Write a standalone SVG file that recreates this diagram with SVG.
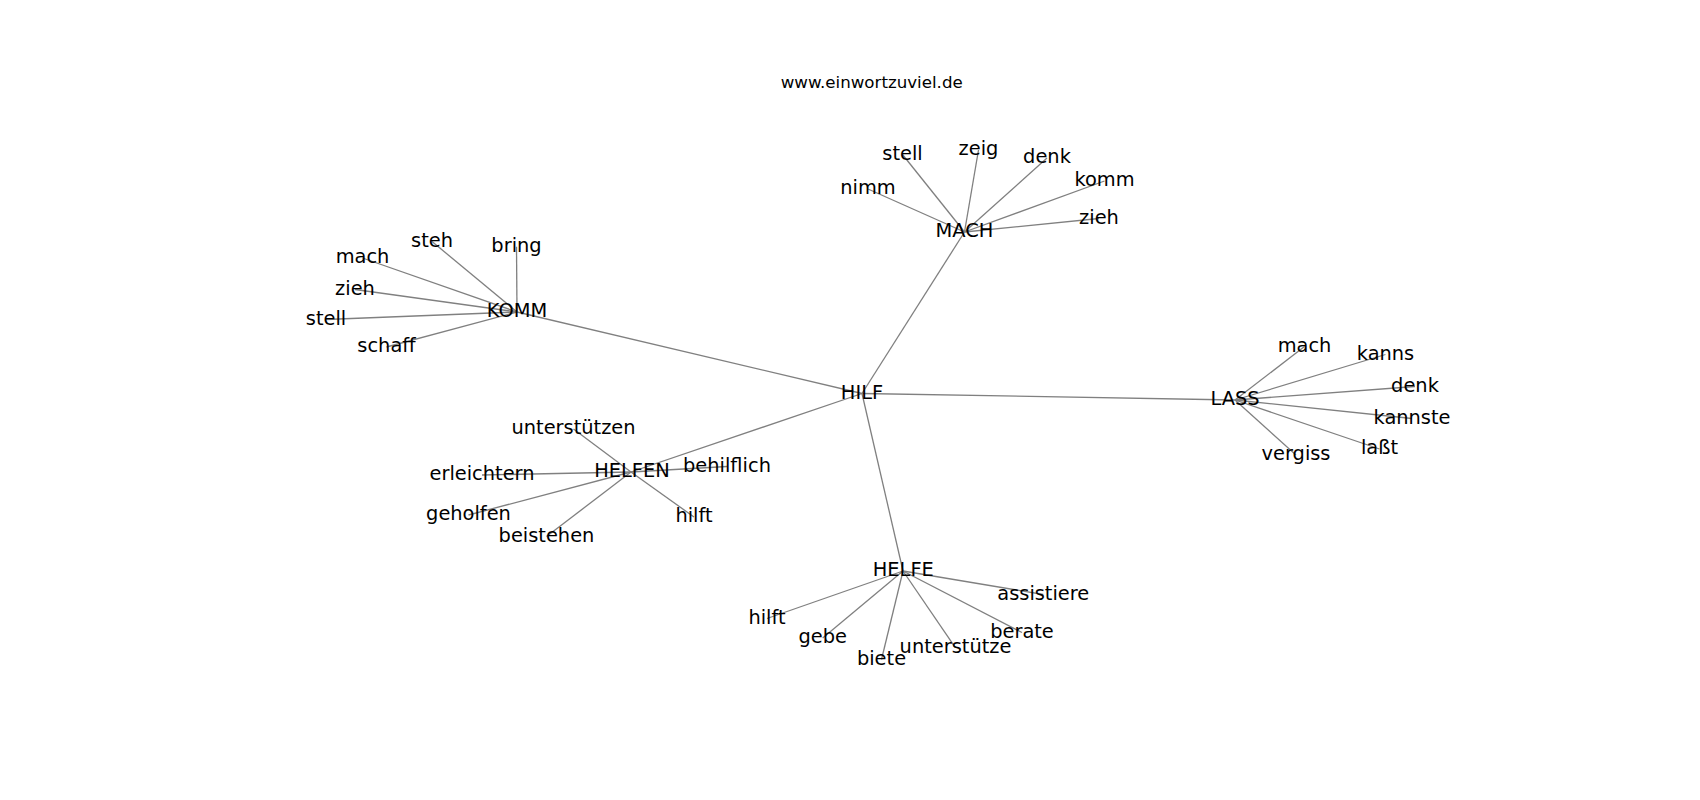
<svg xmlns="http://www.w3.org/2000/svg" width="1700" height="800" viewBox="0 0 1700 800">
<style>
.e{stroke:#808080;stroke-width:1.3;fill:none}
.l{font-family:"DejaVu Sans",sans-serif;font-size:19.4px;fill:#000;text-anchor:middle}
.t{font-family:"DejaVu Sans",sans-serif;font-size:16.67px;fill:#000;text-anchor:middle}
</style>
<rect width="1700" height="800" fill="#fff"/>
<text class="t" x="871.7" y="88.3">www.einwortzuviel.de</text>
<g id="connectors">
<line class="e" x1="862" y1="393.5" x2="517" y2="312"/>
<line class="e" x1="862" y1="393.5" x2="964.5" y2="232"/>
<line class="e" x1="862" y1="393.5" x2="1235" y2="400"/>
<line class="e" x1="862" y1="393.5" x2="631" y2="472"/>
<line class="e" x1="862" y1="393.5" x2="903" y2="571"/>
<line class="e" x1="517" y1="312" x2="516.5" y2="246.8"/>
<line class="e" x1="517" y1="312" x2="432" y2="241.5"/>
<line class="e" x1="517" y1="312" x2="362.5" y2="258"/>
<line class="e" x1="517" y1="312" x2="355" y2="289.5"/>
<line class="e" x1="517" y1="312" x2="326" y2="319.5"/>
<line class="e" x1="517" y1="312" x2="386.5" y2="347"/>
<line class="e" x1="964.5" y1="232" x2="868" y2="189"/>
<line class="e" x1="964.5" y1="232" x2="902.5" y2="154.5"/>
<line class="e" x1="964.5" y1="232" x2="978.5" y2="150"/>
<line class="e" x1="964.5" y1="232" x2="1047" y2="158"/>
<line class="e" x1="964.5" y1="232" x2="1104.5" y2="181"/>
<line class="e" x1="964.5" y1="232" x2="1099" y2="218.5"/>
<line class="e" x1="1235" y1="400" x2="1304.5" y2="346.5"/>
<line class="e" x1="1235" y1="400" x2="1385.5" y2="354.5"/>
<line class="e" x1="1235" y1="400" x2="1415" y2="386.5"/>
<line class="e" x1="1235" y1="400" x2="1412" y2="418.5"/>
<line class="e" x1="1235" y1="400" x2="1379.5" y2="449"/>
<line class="e" x1="1235" y1="400" x2="1296" y2="455"/>
<line class="e" x1="631" y1="472" x2="573.5" y2="429"/>
<line class="e" x1="631" y1="472" x2="482" y2="475"/>
<line class="e" x1="631" y1="472" x2="727" y2="466.5"/>
<line class="e" x1="631" y1="472" x2="468.5" y2="515"/>
<line class="e" x1="631" y1="472" x2="546.5" y2="536.5"/>
<line class="e" x1="631" y1="472" x2="694" y2="517"/>
<line class="e" x1="903" y1="571" x2="1043.3" y2="594.5"/>
<line class="e" x1="903" y1="571" x2="767" y2="618.5"/>
<line class="e" x1="903" y1="571" x2="822.7" y2="638"/>
<line class="e" x1="903" y1="571" x2="1022" y2="632.5"/>
<line class="e" x1="903" y1="571" x2="955.5" y2="647.8"/>
<line class="e" x1="903" y1="571" x2="881.5" y2="659.5"/>
</g>
<g id="HILF"><text class="l" x="862" y="398.5">HILF</text></g>
<g id="KOMM"><text class="l" x="517" y="317">KOMM</text></g>
<g id="MACH"><text class="l" x="964.5" y="237">MACH</text></g>
<g id="LASS"><text class="l" x="1235" y="405">LASS</text></g>
<g id="HELFEN"><text class="l" x="632" y="477">HELFEN</text></g>
<g id="HELFE"><text class="l" x="903.3" y="576">HELFE</text></g>
<g id="komm-bring"><text class="l" x="516.5" y="251.8">bring</text></g>
<g id="komm-steh"><text class="l" x="432" y="246.5">steh</text></g>
<g id="komm-mach"><text class="l" x="362.5" y="263">mach</text></g>
<g id="komm-zieh"><text class="l" x="355" y="294.5">zieh</text></g>
<g id="komm-stell"><text class="l" x="326" y="324.5">stell</text></g>
<g id="komm-schaff"><text class="l" x="386.5" y="352">schaff</text></g>
<g id="mach-nimm"><text class="l" x="868" y="194">nimm</text></g>
<g id="mach-stell"><text class="l" x="902.5" y="159.5">stell</text></g>
<g id="mach-zeig"><text class="l" x="978.5" y="155">zeig</text></g>
<g id="mach-denk"><text class="l" x="1047" y="163">denk</text></g>
<g id="mach-komm"><text class="l" x="1104.5" y="186">komm</text></g>
<g id="mach-zieh"><text class="l" x="1099" y="223.5">zieh</text></g>
<g id="lass-mach"><text class="l" x="1304.5" y="351.5">mach</text></g>
<g id="lass-kanns"><text class="l" x="1385.5" y="359.5">kanns</text></g>
<g id="lass-denk"><text class="l" x="1415" y="391.5">denk</text></g>
<g id="lass-kannste"><text class="l" x="1412" y="423.5">kannste</text></g>
<g id="lass-lasst"><text class="l" x="1379.5" y="454">laßt</text></g>
<g id="lass-vergiss"><text class="l" x="1296" y="460">vergiss</text></g>
<g id="helfen-unterstuetzen"><text class="l" x="573.5" y="434">unterstützen</text></g>
<g id="helfen-erleichtern"><text class="l" x="482" y="480">erleichtern</text></g>
<g id="helfen-behilflich"><text class="l" x="727" y="471.5">behilflich</text></g>
<g id="helfen-geholfen"><text class="l" x="468.5" y="520">geholfen</text></g>
<g id="helfen-beistehen"><text class="l" x="546.5" y="541.5">beistehen</text></g>
<g id="helfen-hilft"><text class="l" x="694" y="522">hilft</text></g>
<g id="helfe-assistiere"><text class="l" x="1043.3" y="599.5">assistiere</text></g>
<g id="helfe-hilft"><text class="l" x="767" y="623.5">hilft</text></g>
<g id="helfe-gebe"><text class="l" x="822.7" y="643">gebe</text></g>
<g id="helfe-berate"><text class="l" x="1022" y="637.5">berate</text></g>
<g id="helfe-unterstuetze"><text class="l" x="955.5" y="652.8">unterstütze</text></g>
<g id="helfe-biete"><text class="l" x="881.5" y="664.5">biete</text></g>
</svg>
